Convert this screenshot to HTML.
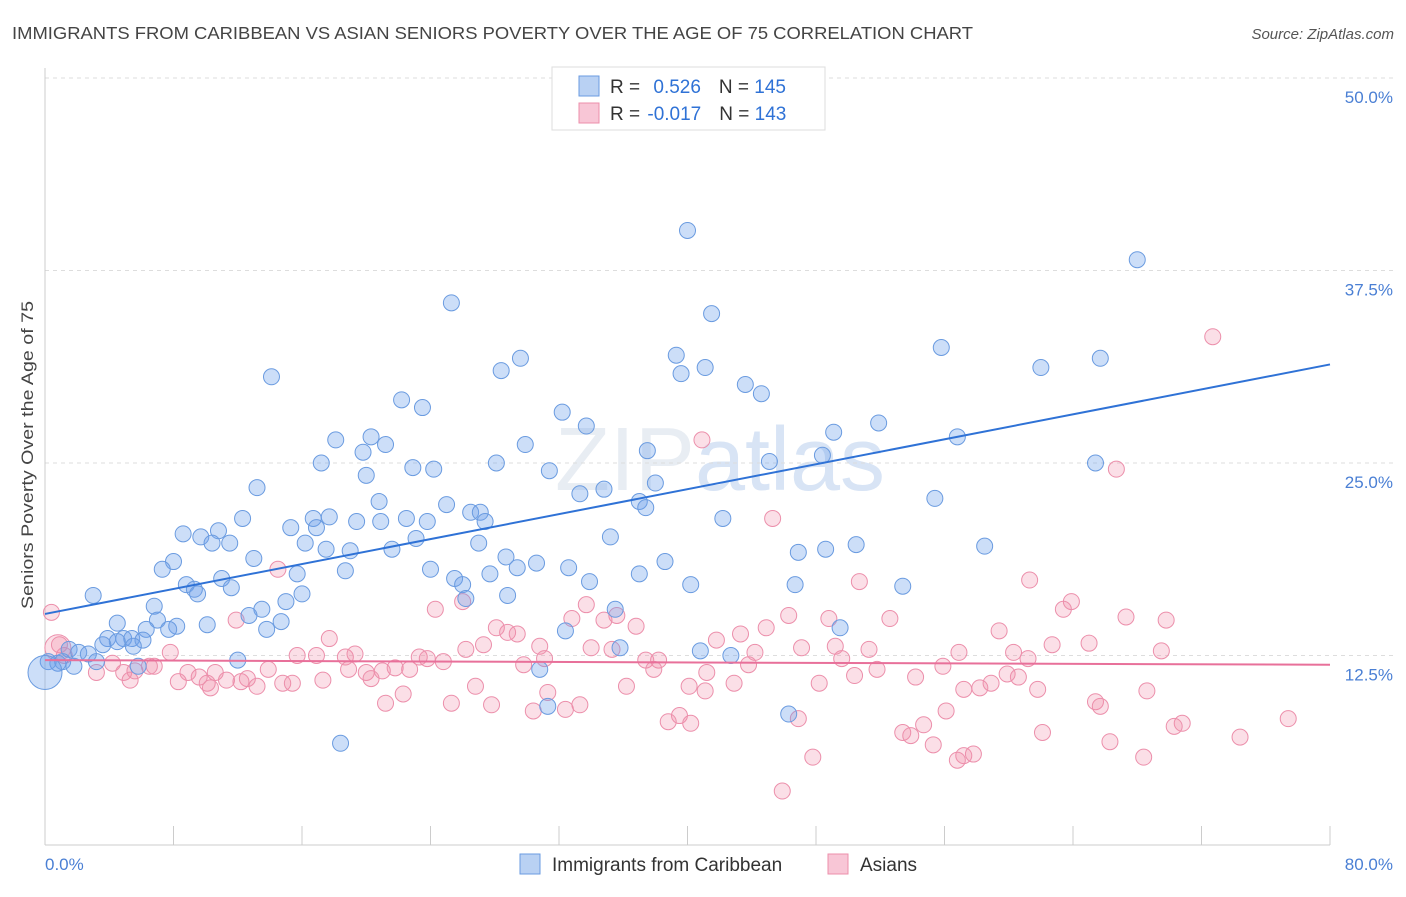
<!DOCTYPE html>
<html><head><meta charset="utf-8"><style>
body{margin:0;background:#fff;font-family:"Liberation Sans",sans-serif;}
svg text{font-family:"Liberation Sans",sans-serif;}
</style></head><body>
<svg id="chart" width="1406" height="892" xmlns="http://www.w3.org/2000/svg">
<text x="12" y="39" font-size="17.5" fill="#444" textLength="961" lengthAdjust="spacingAndGlyphs">IMMIGRANTS FROM CARIBBEAN VS ASIAN SENIORS POVERTY OVER THE AGE OF 75 CORRELATION CHART</text>
<text x="1394" y="39" font-size="15" fill="#555" font-style="italic" text-anchor="end">Source: ZipAtlas.com</text>
<text x="720" y="490" font-size="90" fill="#e8edf3" text-anchor="middle" font-family="Liberation Serif">ZIP<tspan fill="#d8e4f5" font-family="Liberation Sans">atlas</tspan></text>
<g id="grid"></g>
<g id="pts"></g>
<g id="trend"></g>
<text transform="translate(33,455) rotate(-90)" font-size="17" fill="#444" text-anchor="middle" textLength="308" lengthAdjust="spacingAndGlyphs">Seniors Poverty Over the Age of 75</text>
<g>
<rect x="552" y="67" width="273" height="63" fill="#fff" stroke="#ddd"/>
<rect x="579" y="76" width="20" height="20" fill="#b9d1f3" stroke="#6a9be0"/>
<rect x="579" y="103" width="20" height="20" fill="#f8c6d6" stroke="#ec8fab"/>
<text x="610" y="93" font-size="19" fill="#333">R = <tspan fill="#2f72d6" dx="8">0.526</tspan><tspan dx="18" fill="#333">N = </tspan><tspan fill="#2f72d6">145</tspan></text>
<text x="610" y="120" font-size="19" fill="#333">R = <tspan fill="#2f72d6" dx="2">-0.017</tspan><tspan dx="18" fill="#333">N = </tspan><tspan fill="#2f72d6">143</tspan></text>
</g>
<g>
<rect x="520" y="854" width="20" height="20" fill="#b9d1f3" stroke="#6a9be0"/>
<text x="552" y="871" font-size="19" fill="#333">Immigrants from Caribbean</text>
<rect x="828" y="854" width="20" height="20" fill="#f8c6d6" stroke="#ec8fab"/>
<text x="860" y="871" font-size="19" fill="#333">Asians</text>
</g>
</svg>
<script>
const yTicks=[12.5,25,37.5,50];
const yTickLabels=["12.5%","25.0%","37.5%","50.0%"];
const xTickVals=[0,8,16,24,32,40,48,56,64,72,80];
const xEndLabels=["0.0%","80.0%"];
const blueX=[40.0,68.0,25.3,41.5,55.8,65.7,39.3,29.6,41.1,39.6,28.4,62.0,14.1,43.6,44.6,22.2,23.5,32.2,51.9,33.7,49.1,56.8,18.1,20.3,21.2,29.9,19.8,37.5,48.4,17.2,28.1,45.1,65.4,22.9,24.2,31.4,20.0,38.0,13.2,34.8,33.3,55.4,20.8,25.0,37.0,37.4,26.5,27.1,12.3,16.7,17.7,22.5,23.8,27.4,42.2,15.3,16.9,19.4,20.9,10.8,8.6,9.7,23.1,35.2,10.4,11.5,16.2,27.0,50.5,58.5,17.5,19.0,21.6,48.6,46.9,8.0,13.0,28.7,30.6,38.6,29.4,7.3,18.7,24.0,32.6,11.0,15.7,25.5,27.7,37.0,33.9,8.8,26.0,40.2,46.7,53.4,9.3,11.6,9.5,3.0,16.0,28.8,26.2,15.0,6.8,13.5,12.7,35.5,7.0,14.7,4.5,10.1,8.2,6.3,7.7,13.8,32.4,49.5,3.9,4.9,5.4,6.1,4.5,3.6,5.5,35.8,1.5,2.1,2.7,40.8,42.7,12.0,0.2,0.8,1.1,3.2,1.8,5.8,30.8,0,31.3,46.3,18.4];
const blueY=[40.1,38.2,35.4,34.7,32.5,31.8,32.0,31.8,31.2,30.8,31.0,31.2,30.6,30.1,29.5,29.1,28.6,28.3,27.6,27.4,27.0,26.7,26.5,26.7,26.2,26.2,25.7,25.8,25.5,25.0,25.0,25.1,25.0,24.7,24.6,24.5,24.2,23.7,23.4,23.3,23.0,22.7,22.5,22.3,22.5,22.1,21.8,21.8,21.4,21.4,21.5,21.4,21.2,21.2,21.4,20.8,20.8,21.2,21.2,20.6,20.4,20.2,20.1,20.2,19.8,19.8,19.8,19.8,19.7,19.6,19.4,19.3,19.4,19.4,19.2,18.6,18.8,18.9,18.5,18.6,18.2,18.1,18.0,18.1,18.2,17.5,17.8,17.5,17.8,17.8,17.3,17.1,17.1,17.1,17.1,17.0,16.8,16.9,16.5,16.4,16.5,16.4,16.2,16.0,15.7,15.5,15.1,15.5,14.8,14.7,14.6,14.5,14.4,14.2,14.2,14.2,14.1,14.3,13.6,13.6,13.6,13.5,13.4,13.2,13.1,13.0,12.9,12.7,12.6,12.8,12.5,12.2,12.1,12.0,12.1,12.1,11.8,11.8,11.6,11.4,9.2,8.7,6.8];
const pinkX=[72.7,40.9,66.7,45.3,14.5,50.7,61.3,26.0,63.9,63.4,0.4,24.3,33.7,35.6,32.8,34.8,46.3,48.8,52.6,67.3,69.8,11.9,28.1,36.8,28.8,29.4,44.9,43.3,59.4,17.7,41.8,0.9,27.3,30.8,34.0,62.7,65.0,47.1,49.2,51.3,26.2,69.5,7.8,35.3,44.2,56.9,1.2,15.7,16.9,18.7,19.3,23.3,23.8,24.8,31.1,37.4,38.2,49.6,60.3,61.2,43.8,4.2,6.8,29.8,55.9,6.5,8.9,13.9,18.9,21.8,22.7,37.9,51.8,3.2,4.9,5.6,10.6,20.0,21.0,41.2,59.9,5.3,9.6,12.6,20.3,50.4,54.2,60.6,8.3,10.1,11.3,12.2,13.2,14.8,15.4,17.3,10.3,26.8,36.2,40.1,42.9,48.2,57.2,58.2,58.9,61.8,41.1,31.3,22.3,68.6,65.4,65.7,21.2,25.3,27.8,33.3,32.4,30.4,56.1,39.5,77.4,38.8,40.2,46.9,54.7,70.8,70.3,53.4,53.9,62.1,74.4,55.3,66.3,57.2,57.8,56.8,47.8,68.4,45.9,0.8];
const pinkY=[33.2,26.5,24.6,21.4,18.1,17.3,17.4,16.0,16.0,15.5,15.3,15.5,15.8,15.1,14.9,14.8,15.1,14.9,14.9,15.0,14.8,14.8,14.3,14.4,14.0,13.9,14.3,13.9,14.1,13.6,13.5,13.2,13.2,13.1,13.0,13.2,13.3,13.0,13.1,12.9,12.9,12.8,12.7,12.9,12.7,12.7,12.5,12.5,12.5,12.4,12.6,12.4,12.3,12.1,12.3,12.2,12.2,12.3,12.7,12.3,11.9,12.0,11.8,11.9,11.8,11.8,11.4,11.6,11.6,11.7,11.6,11.6,11.6,11.4,11.4,11.5,11.4,11.4,11.5,11.4,11.3,10.9,11.1,11.0,11.0,11.2,11.1,11.1,10.8,10.7,10.9,10.8,10.5,10.7,10.7,10.9,10.4,10.5,10.5,10.5,10.7,10.7,10.3,10.4,10.7,10.3,10.2,10.1,10.0,10.2,9.5,9.2,9.4,9.4,9.3,9.3,9.0,8.9,8.9,8.6,8.4,8.2,8.1,8.4,8.0,8.1,7.9,7.5,7.3,7.5,7.2,6.7,6.9,6.0,6.1,5.7,5.9,5.9,3.7,13.0];
const blueTrend=[15.2,31.4];
const pinkTrend=[12.2,11.9];
const X0=45,X1=1330,Y0=848,Y50=78;
const sx=v=>X0+(v/80)*(X1-X0);
const sy=v=>Y0-(v/50)*(Y0-Y50);
const NS="http://www.w3.org/2000/svg";
function mk(tag,attrs,parent){const e=document.createElementNS(NS,tag);for(const k in attrs)e.setAttribute(k,attrs[k]);parent.appendChild(e);return e;}
const grid=document.getElementById('grid');
yTicks.forEach((t,i)=>{
  const l=mk('line',{x1:X0,x2:1394,y1:sy(t),y2:sy(t),stroke:'#ddd','stroke-dasharray':'4,4'},grid);
  
  
  const tx=mk('text',{x:1393,y:sy(t)+25,'font-size':17,fill:'#4a7fd4','text-anchor':'end'},grid);
  tx.textContent=yTickLabels[i];
  
  
});
const ax=mk('line',{x1:X0,x2:X0,y1:68,y2:845,stroke:'#ccc'},grid);


const xa=mk('line',{x1:X0,x2:X1,y1:845,y2:845,stroke:'#ccc'},grid);


xTickVals.forEach(t=>{
  const l=mk('line',{x1:sx(t),x2:sx(t),y1:826,y2:845,stroke:'#ccc'},grid);
  
  
});
const xl0=mk('text',{x:45,y:870,'font-size':17,fill:'#4a7fd4'},grid);xl0.textContent=xEndLabels[0];


const xl1=mk('text',{x:1393,y:870,'font-size':17,fill:'#4a7fd4','text-anchor':'end'},grid);xl1.textContent=xEndLabels[1];


const pts=document.getElementById('pts');
pinkX.forEach((x,i)=>{
  const c=mk('circle',{cx:sx(x),cy:sy(pinkY[i]),r:(i===pinkX.length-1?13:8),fill:'rgba(240,140,170,0.28)',stroke:'#ec8fab','stroke-width':1},pts);
  
  
});
blueX.forEach((x,i)=>{
  const c=mk('circle',{cx:sx(x),cy:sy(blueY[i]),r:(x===0?17:8),fill:'rgba(110,160,235,0.35)',stroke:'#6a9be0','stroke-width':1},pts);
  
  
});
const tr=document.getElementById('trend');
const bl=mk('line',{x1:sx(0),y1:sy(blueTrend[0]),x2:sx(80),y2:sy(blueTrend[1]),stroke:'#2f72d6','stroke-width':2},tr);


const pl=mk('line',{x1:sx(0),y1:sy(pinkTrend[0]),x2:sx(80),y2:sy(pinkTrend[1]),stroke:'#e8709a','stroke-width':2},tr);


</script>
</body></html>
